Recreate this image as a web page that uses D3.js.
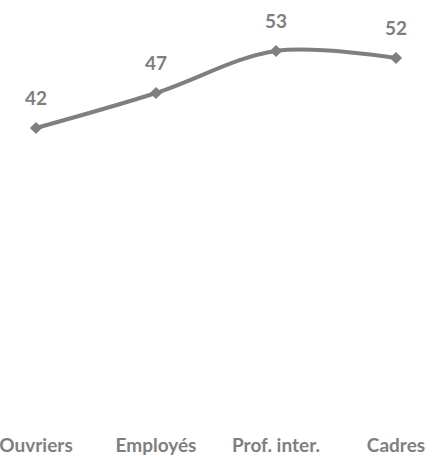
<!DOCTYPE html>
<html><head><meta charset="utf-8">
<script src="https://cdn.jsdelivr.net/npm/d3@7"></script>
<style>body{margin:0;background:#fff}svg{display:block}</style>
</head><body>
<script>
const categories = ["Ouvriers", "Employés", "Prof. inter.", "Cadres"];
const values = [42, 47, 53, 52];

const W = 445, H = 456;
const svg = d3.select("body").append("svg").attr("width", W).attr("height", H);
const x = d3.scalePoint().domain(categories).range([36, 396]);
const y = d3.scaleLinear().domain([0, 60]).range([422, 2]);
const color = "#7f7f7f";
const font = "Lato, 'Open Sans', sans-serif";

const data = categories.map((c, i) => ({c, v: values[i]}));

svg.append("path").datum(data)
  .attr("fill", "none").attr("stroke", color).attr("stroke-width", 4)
  .attr("d", d3.line().x(d => x(d.c)).y(d => y(d.v)).curve(d3.curveCatmullRom.alpha(0.5)));

svg.selectAll("path.m").data(data).enter().append("path").attr("class", "m")
  .attr("transform", d => `translate(${x(d.c)},${y(d.v)}) rotate(45)`)
  .attr("d", d3.symbol().type(d3.symbolSquare).size(75))
  .attr("fill", color);

svg.selectAll("text.v").data(data).enter().append("text").attr("class", "v")
  .attr("x", d => x(d.c)).attr("y", d => y(d.v) - 23)
  .attr("text-anchor", "middle").attr("font-family", font).attr("font-weight", "bold")
  .attr("font-size", 19).attr("fill", color).text(d => d.v);

svg.selectAll("text.c").data(categories).enter().append("text").attr("class", "c")
  .attr("x", d => x(d)).attr("y", 452)
  .attr("text-anchor", "middle").attr("font-family", font).attr("font-weight", "bold")
  .attr("font-size", 19).attr("fill", color).text(d => d);
</script>
</body></html>
